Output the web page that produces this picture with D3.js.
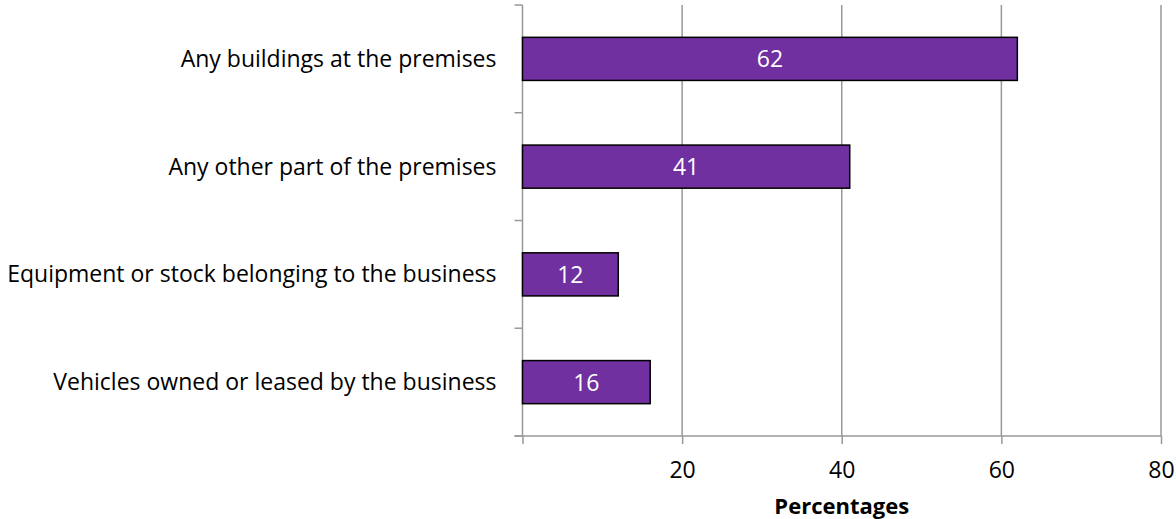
<!DOCTYPE html>
<html>
<head>
<meta charset="utf-8">
<script src="https://cdn.jsdelivr.net/npm/d3@7"></script>
<style>
  body { margin: 0; background: #fff; }
  svg { display: block; }
  text { font-family: "Open Sans", "Liberation Sans", sans-serif; }
</style>
</head>
<body>
<svg id="chart" width="1176" height="519"></svg>
<script>
const categories = [
  "Any buildings at the premises",
  "Any other part of the premises",
  "Equipment or stock belonging to the business",
  "Vehicles owned or leased by the business"
];
const values = [62, 41, 12, 16];
const xTicks = [20, 40, 60, 80];
const xTitle = "Percentages";

const svg = d3.select("#chart");
const plotLeft = 522.5, plotRight = 1161, plotTop = 5, plotBottom = 436;
const fontSize = 23;

const x = d3.scaleLinear().domain([0, 80]).range([plotLeft, plotRight]);
const y = d3.scaleBand().domain(categories).range([plotTop, plotBottom]).paddingInner(0.6).paddingOuter(0.3);

const grey = "#999";

// vertical gridlines
svg.append("g").selectAll("line").data(xTicks).join("line")
  .attr("x1", d => x(d)).attr("x2", d => x(d))
  .attr("y1", plotTop).attr("y2", plotBottom)
  .attr("stroke", grey).attr("stroke-width", 1.5);

// x axis
const xAxis = svg.append("g").attr("transform", `translate(0,${plotBottom})`)
  .call(d3.axisBottom(x).tickValues([0, ...xTicks]).tickSize(8)
    .tickFormat(d => d === 0 ? "" : d));
xAxis.select(".domain").remove();
xAxis.selectAll(".tick line").attr("stroke", grey).attr("stroke-width", 1.5);
xAxis.selectAll(".tick text")
  .attr("y", 42).attr("dy", 0)
  .attr("font-size", fontSize).attr("fill", "#000")
  .style("font-family", "'Open Sans', sans-serif");
svg.append("line").attr("x1", plotLeft - 8).attr("x2", plotRight)
  .attr("y1", plotBottom).attr("y2", plotBottom).attr("stroke", grey).attr("stroke-width", 1.5);

// y axis with tick marks at band boundaries
const step = (plotBottom - plotTop) / categories.length;
svg.append("line").attr("x1", plotLeft).attr("x2", plotLeft).attr("y1", plotTop).attr("y2", plotBottom)
  .attr("stroke", grey).attr("stroke-width", 1.5);
svg.append("g").selectAll("line").data(d3.range(categories.length + 1)).join("line")
  .attr("x1", plotLeft - 8).attr("x2", plotLeft)
  .attr("y1", i => plotTop + i * step).attr("y2", i => plotTop + i * step)
  .attr("stroke", grey).attr("stroke-width", 1.5);

// category labels
svg.append("g").selectAll("text").data(categories).join("text")
  .attr("x", plotLeft - 26).attr("y", d => y(d) + y.bandwidth() / 2 + 8)
  .attr("text-anchor", "end")
  .attr("font-size", fontSize).attr("fill", "#000").text(d => d);

// bars
const data = categories.map((c, i) => ({ c, v: values[i] }));
svg.append("g").selectAll("rect").data(data).join("rect")
  .attr("x", x(0)).attr("y", d => y(d.c))
  .attr("width", d => x(d.v) - x(0)).attr("height", y.bandwidth())
  .attr("fill", "#7030A0").attr("stroke", "#000").attr("stroke-width", 1.5);

// value labels
svg.append("g").selectAll("text").data(data).join("text")
  .attr("x", d => (x(0) + x(d.v)) / 2).attr("y", d => y(d.c) + y.bandwidth() / 2 + 8.5)
  .attr("text-anchor", "middle")
  .attr("font-size", fontSize).attr("fill", "#fff").text(d => d.v);

// axis title
svg.append("text").attr("x", (plotLeft + plotRight) / 2).attr("y", 514)
  .attr("text-anchor", "middle").attr("font-size", 22).attr("font-weight", "bold")
  .attr("fill", "#000").text(xTitle);
</script>
</body>
</html>
